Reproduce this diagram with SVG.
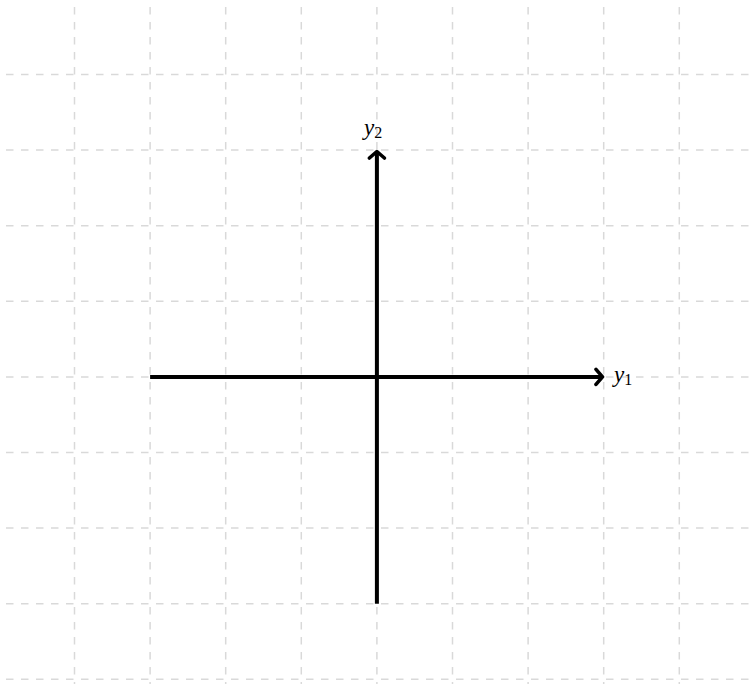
<svg xmlns="http://www.w3.org/2000/svg" width="750" height="684" viewBox="0 0 750 684">
<style>
.grid line{stroke:#d9d9d9;stroke-width:1.5;stroke-dasharray:7.5 7.5}
.axis{stroke:#000;stroke-width:4;fill:none}
.lbl{font-family:"Liberation Serif",serif;font-size:23px;fill:#000}
.lbl .v{font-style:italic}
.lbl .s{font-size:16px}
</style>
<defs>
<marker id="ah" viewBox="-10 -10 20 20" markerWidth="20" markerHeight="20" markerUnits="userSpaceOnUse" orient="auto" refX="0" refY="0">
<path d="M-5,-7.5 L1.5,0 L-5,7.5" fill="none" stroke="#000" stroke-width="3.6" stroke-linecap="round" stroke-linejoin="round"/>
</marker>
</defs>
<rect width="750" height="684" fill="#fff"/>
<g class="grid">
<line x1="74.5" y1="7" x2="74.5" y2="684"/>
<line x1="150.1" y1="7" x2="150.1" y2="684"/>
<line x1="225.7" y1="7" x2="225.7" y2="684"/>
<line x1="301.3" y1="7" x2="301.3" y2="684"/>
<line x1="376.9" y1="7" x2="376.9" y2="684"/>
<line x1="452.5" y1="7" x2="452.5" y2="684"/>
<line x1="528.1" y1="7" x2="528.1" y2="684"/>
<line x1="603.7" y1="7" x2="603.7" y2="684"/>
<line x1="679.3" y1="7" x2="679.3" y2="684"/>
<line x1="6" y1="74.5" x2="750" y2="74.5"/>
<line x1="6" y1="150.1" x2="750" y2="150.1"/>
<line x1="6" y1="225.7" x2="750" y2="225.7"/>
<line x1="6" y1="301.3" x2="750" y2="301.3"/>
<line x1="6" y1="376.9" x2="750" y2="376.9"/>
<line x1="6" y1="452.5" x2="750" y2="452.5"/>
<line x1="6" y1="528.1" x2="750" y2="528.1"/>
<line x1="6" y1="603.7" x2="750" y2="603.7"/>
<line x1="6" y1="679.3" x2="750" y2="679.3"/>
</g>
<g id="connectors">
<line class="axis" x1="150.1" y1="376.9" x2="601" y2="376.9" marker-end="url(#ah)"/>
<line class="axis" x1="376.9" y1="603.7" x2="376.9" y2="153" marker-end="url(#ah)"/>
</g>
<g id="label-y1"><text class="lbl" x="614" y="382"><tspan class="v">y</tspan><tspan class="s" dy="3">1</tspan></text></g>
<g id="label-y2"><text class="lbl" x="364" y="135"><tspan class="v">y</tspan><tspan class="s" dy="3">2</tspan></text></g>
</svg>
